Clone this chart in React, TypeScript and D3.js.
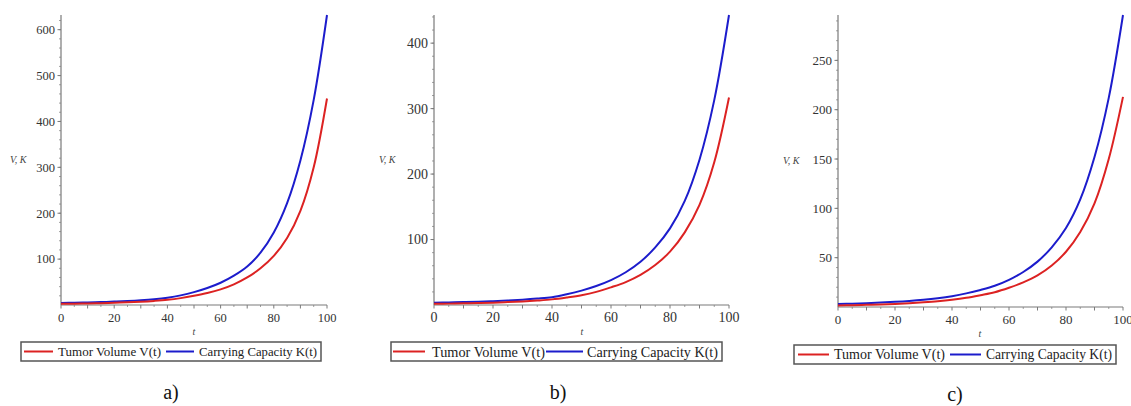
import React from 'react'
import * as d3 from 'd3'

// time points
const tValues = [0, 5, 10, 15, 20, 25, 30, 35, 40, 45, 50, 55, 60, 65, 70, 75, 80, 85, 90, 95, 100]

// panel a
const volumeA = [2.5, 2.9, 3.4, 4, 4.8, 5.8, 7.1, 8.9, 11.3, 15, 20, 26, 34, 45, 60, 80, 107, 146, 205, 300, 450]
const capacityA = [4.5, 5, 5.6, 6.4, 7.4, 8.7, 10.4, 12.7, 16, 21, 28, 37, 48.5, 64, 84, 114, 158, 222, 315, 447, 632]
// panel b
const volumeB = [1.8, 2.1, 2.5, 3, 3.6, 4.4, 5.4, 6.8, 8.6, 11.5, 15, 20, 27, 35, 46, 61, 81.5, 111, 153, 218, 317]
const capacityB = [3.5, 3.9, 4.4, 5, 5.8, 6.8, 8.1, 9.8, 12, 16.5, 22, 29, 38, 50, 66, 88, 117, 159, 222, 313, 443]
// panel c
const volumeC = [1.5, 1.8, 2.2, 2.6, 3.1, 3.8, 4.7, 5.8, 7.3, 9.3, 12, 15, 19.5, 25, 32, 42, 56, 76, 105, 150, 213]
const capacityC = [3, 3.4, 3.9, 4.5, 5.2, 6.1, 7.3, 8.9, 11, 13.8, 17.3, 21.5, 27.5, 35.5, 46, 60.5, 80, 109, 152, 212, 296]

const xTicks = [0, 10, 20, 30, 40, 50, 60, 70, 80, 90, 100]
const xLabels = [0, 20, 40, 60, 80, 100]
const yLabelsA = [100, 200, 300, 400, 500, 600]
const yLabelsB = [100, 200, 300, 400]
const yLabelsC = [50, 100, 150, 200, 250]
const seriesNames = ['Tumor Volume V(t)', 'Carrying Capacity K(t)']
const captions = ['a)', 'b)', 'c)']

const RED = '#dc2222'
const BLUE = '#1c1ccc'
const AXIS = '#7a7a7a'
const FONT = 'Liberation Serif, DejaVu Serif, serif'

const panels = [
  {
    volume: volumeA, capacity: capacityA, yLabels: yLabelsA, minor: 20, caption: captions[0],
    x0: 61, x1: 327, y0: 305, y1: 15, fs: 12.5,
    vk: [10, 163], tl: [194, 335], cap: [171, 399],
    lg: { x: 21, y: 342, w: 300, h: 19, fs: 13.5, r: [24, 53], rt: 58, rw: 103, b: [166, 194], bt: 199, bw: 118 },
  },
  {
    volume: volumeB, capacity: capacityB, yLabels: yLabelsB, minor: 20, caption: captions[1],
    x0: 434, x1: 729, y0: 305, y1: 15, fs: 14,
    vk: [379, 163], tl: [582, 335], cap: [558, 399],
    lg: { x: 391, y: 342, w: 331, h: 19, fs: 14.5, r: [393, 425], rt: 432, rw: 113, b: [546, 583], bt: 587, bw: 131 },
  },
  {
    volume: volumeC, capacity: capacityC, yLabels: yLabelsC, minor: 10, caption: captions[2],
    x0: 838, x1: 1123, y0: 307, y1: 15, fs: 13,
    vk: [783, 164], tl: [980, 337], cap: [955, 401],
    lg: { x: 794, y: 345, w: 322, h: 19, fs: 14, r: [798, 829], rt: 834, rw: 111, b: [950, 981], bt: 986, bw: 126 },
  },
]

function Panel({ p }: { p: any }) {
  const x = d3.scaleLinear().domain([0, 100]).range([p.x0, p.x1])
  const y = d3.scaleLinear().domain([0, d3.max(p.capacity as number[])!]).range([p.y0, p.y1])

  const line = d3.line<number>()
    .x((_, i) => x(tValues[i]))
    .y(d => y(d))
    .curve(d3.curveCatmullRom.alpha(0.5))

  const minorTicks = d3.range(p.minor, y.domain()[1], p.minor)
  const xMinor = d3.range(5, 100, 10)
  const lg = p.lg
  const ly = lg.y + lg.h / 2

  return (
    <g style={{ fontFamily: FONT }}>
      {/* axes */}
      <line x1={p.x0} x2={p.x1} y1={p.y0} y2={p.y0} stroke={AXIS} strokeWidth={1.2} />
      <line x1={p.x0} x2={p.x0} y1={p.y0} y2={p.y1} stroke={AXIS} strokeWidth={1.2} />
      {xTicks.map(t => (
        <line key={'xt' + t} x1={x(t)} x2={x(t)} y1={p.y0} y2={p.y0 + 3.5} stroke={AXIS} />
      ))}
      {xMinor.map(t => (
        <line key={'xm' + t} x1={x(t)} x2={x(t)} y1={p.y0} y2={p.y0 + 2} stroke={AXIS} strokeWidth={0.7} />
      ))}
      {xLabels.map(t => (
        <text key={'xl' + t} x={x(t)} y={p.y0 + 17} textAnchor="middle" fontSize={p.fs} fill="#333">{t}</text>
      ))}
      {minorTicks.map(v => (
        <line key={'ym' + v} x1={p.x0 - 2} x2={p.x0} y1={y(v)} y2={y(v)} stroke={AXIS} strokeWidth={0.7} />
      ))}
      {p.yLabels.map((v: number) => (
        <g key={'yl' + v}>
          <line x1={p.x0 - 3.5} x2={p.x0} y1={y(v)} y2={y(v)} stroke={AXIS} />
          <text x={p.x0 - 6} y={y(v)} dy="0.35em" textAnchor="end" fontSize={p.fs} fill="#333">{v}</text>
        </g>
      ))}
      <text x={p.vk[0]} y={p.vk[1]} fontSize={10} fontStyle="italic" fill="#444">V, K</text>
      <text x={p.tl[0]} y={p.tl[1]} fontSize={10} fontStyle="italic" fill="#444" textAnchor="middle">t</text>

      {/* curves */}
      <path d={line(p.capacity)!} fill="none" stroke={BLUE} strokeWidth={2} />
      <path d={line(p.volume)!} fill="none" stroke={RED} strokeWidth={2} />

      {/* legend */}
      <rect x={lg.x} y={lg.y} width={lg.w} height={lg.h} fill="white" stroke="#555" strokeWidth={1.5} />
      <line x1={lg.r[0]} x2={lg.r[1]} y1={ly} y2={ly} stroke={RED} strokeWidth={2} />
      <text x={lg.rt} y={ly} dy="0.35em" fontSize={lg.fs} fill="#222" textLength={lg.rw} lengthAdjust="spacingAndGlyphs">{seriesNames[0]}</text>
      <line x1={lg.b[0]} x2={lg.b[1]} y1={ly} y2={ly} stroke={BLUE} strokeWidth={2} />
      <text x={lg.bt} y={ly} dy="0.35em" fontSize={lg.fs} fill="#222" textLength={lg.bw} lengthAdjust="spacingAndGlyphs">{seriesNames[1]}</text>

      <text x={p.cap[0]} y={p.cap[1]} textAnchor="middle" fontSize={20} fill="#111">{p.caption}</text>
    </g>
  )
}

export default function App() {
  return (
    <svg width={1131} height={406} style={{ position: 'absolute', left: 0, top: 0, background: 'white' }}>
      <rect width={1131} height={406} fill="white" />
      {panels.map((p, i) => <Panel key={i} p={p} />)}
    </svg>
  )
}
